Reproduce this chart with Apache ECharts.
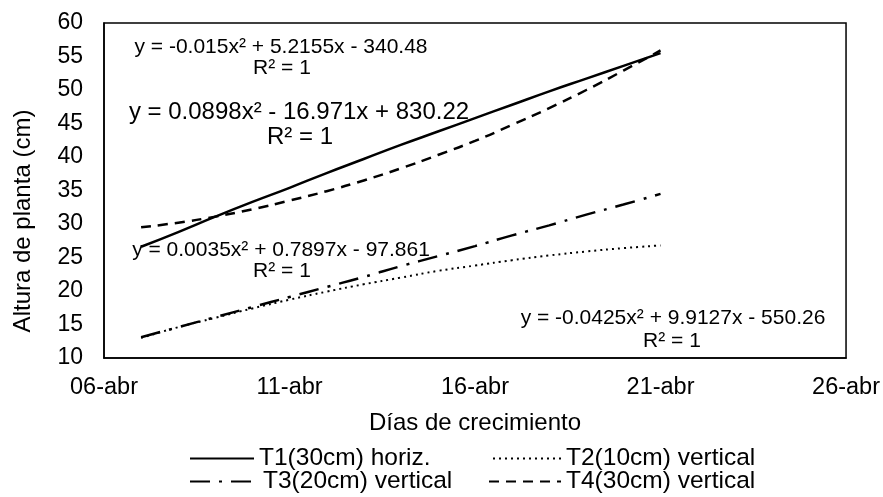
<!DOCTYPE html>
<html>
<head>
<meta charset="utf-8">
<script src="https://cdn.jsdelivr.net/npm/echarts@6/dist/echarts.min.js"></script>
<style>
    html, body { margin: 0; padding: 0; background: #fff; }
    #main { width: 883px; height: 497px; }
</style>
</head>
<body>
<div id="main"></div>
<script>
var days = [7, 8, 9, 10, 11, 12, 13, 14, 15, 16, 17, 18, 19, 20, 21];
var t1 = [26.6, 28.8, 31.1, 33.3, 35.4, 37.6, 39.7, 41.8, 43.8, 45.8, 47.8, 49.8, 51.7, 53.6, 55.5];
var t2 = [13.0, 14.6, 16.0, 17.4, 18.7, 19.9, 21.0, 22.0, 23.0, 23.8, 24.6, 25.3, 25.9, 26.4, 26.8];
var t3 = [13.1, 14.6, 16.1, 17.6, 19.1, 20.6, 22.1, 23.7, 25.2, 26.7, 28.3, 29.8, 31.4, 32.9, 34.5];
var t4 = [29.5, 30.2, 31.1, 32.2, 33.5, 34.9, 36.5, 38.3, 40.3, 42.4, 44.8, 47.3, 50.0, 52.9, 55.9];

var seriesNames = ['T1(30cm) horiz.', 'T2(10cm) vertical', 'T3(20cm) vertical', 'T4(30cm) vertical'];
var tickDays = [6, 11, 16, 21, 26];
var tickLabels = ['06-abr', '11-abr', '16-abr', '21-abr', '26-abr'];

var equations = [
    'y = -0.015x² + 5.2155x - 340.48',
    'y = 0.0898x² - 16.971x + 830.22',
    'y = 0.0035x² + 0.7897x - 97.861',
    'y = -0.0425x² + 9.9127x - 550.26'
];

var FONT = '"Liberation Sans", Arial, sans-serif';

function pairs(vals) {
    var out = [];
    for (var i = 0; i < days.length; i++) {
        out.push([days[i], vals[i]]);
    }
    return out;
}

// etiqueta centrada en (x, y)
function eqText(txt, x, y, size, rot) {
    return {
        type: 'text', x: x, y: y, rotation: rot || 0,
        style: {text: txt, fill: '#000', font: size + 'px ' + FONT, align: 'center', verticalAlign: 'middle'},
        z: 10
    };
}

function legendItem(name, left, top, w) {
    return {
        data: [name], left: left, top: top, padding: 0,
        itemWidth: w, itemHeight: 14, itemGap: 0,
        itemStyle: {opacity: 0},
        textStyle: {color: '#000', fontSize: 24.5, fontFamily: FONT}
    };
}

var myChart = echarts.init(document.getElementById('main'));

var option = {
    backgroundColor: '#fff',
    animation: false,
    grid: {
        left: 104, right: 36, top: 23, bottom: 139,
        show: true, borderColor: '#000', borderWidth: 1.5
    },
    legend: [
        legendItem(seriesNames[0], 189, 446, 64),
        legendItem(seriesNames[1], 492, 446, 68),
        legendItem(seriesNames[2], 189, 469, 68),
        legendItem(seriesNames[3], 488, 469, 72)
    ],
    xAxis: {
        type: 'value', min: 6, max: 26, interval: 5,
        name: 'Días de crecimiento', nameLocation: 'middle', nameGap: 53,
        nameTextStyle: {color: '#000', fontSize: 24, fontFamily: FONT},
        axisLine: {lineStyle: {color: '#000', width: 1.5}},
        axisTick: {show: false},
        splitLine: {show: false},
        axisLabel: {
            color: '#000', fontSize: 23.5, fontFamily: FONT, margin: 18,
            formatter: function (v) {
                return tickLabels[tickDays.indexOf(v)];
            }
        }
    },
    yAxis: {
        type: 'value', min: 10, max: 60, interval: 5,
        axisLine: {lineStyle: {color: '#000', width: 1.5}},
        axisTick: {show: false},
        splitLine: {show: false},
        axisLabel: {color: '#000', fontSize: 23, fontFamily: FONT, margin: 21}
    },
    series: [
        {name: seriesNames[0], type: 'line', smooth: true, symbol: 'none', data: pairs(t1),
            lineStyle: {color: '#000', width: 2.5, type: 'solid'}, itemStyle: {color: '#000'}},
        {name: seriesNames[1], type: 'line', smooth: true, symbol: 'none', data: pairs(t2),
            lineStyle: {color: '#000', width: 2, type: [2, 4]}, itemStyle: {color: '#000'}},
        {name: seriesNames[2], type: 'line', smooth: true, symbol: 'none', data: pairs(t3),
            lineStyle: {color: '#000', width: 2.5, type: [20, 9, 3, 9]}, itemStyle: {color: '#000'}},
        {name: seriesNames[3], type: 'line', smooth: true, symbol: 'none', data: pairs(t4),
            lineStyle: {color: '#000', width: 2.5, type: [10, 7]}, itemStyle: {color: '#000'}}
    ],
    graphic: [
        eqText('Altura de planta (cm)', 23, 221, 24, Math.PI / 2),
        eqText(equations[0], 281, 47, 21),
        eqText('R² = 1', 282, 68, 21),
        eqText(equations[1], 299, 112, 24),
        eqText('R² = 1', 300, 137, 24),
        eqText(equations[2], 281, 250, 21),
        eqText('R² = 1', 282, 271, 21),
        eqText(equations[3], 673, 318, 21),
        eqText('R² = 1', 672, 341, 21)
    ]
};

myChart.setOption(option);
</script>
</body>
</html>
